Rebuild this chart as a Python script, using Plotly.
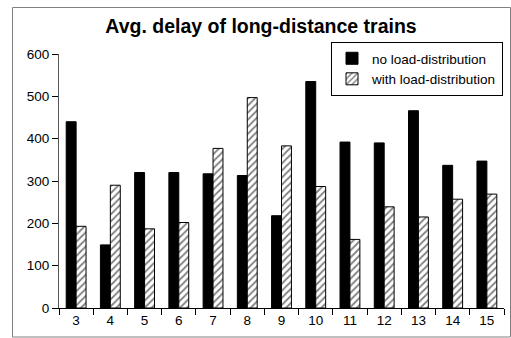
import plotly.graph_objects as go

categories = ["3", "4", "5", "6", "7", "8", "9", "10", "11", "12", "13", "14", "15"]
no_load = [440, 149, 320, 320, 317, 313, 218, 535, 392, 390, 466, 337, 347]
with_load = [193, 290, 187, 202, 377, 497, 383, 287, 162, 239, 215, 257, 269]
y_ticks = [0, 100, 200, 300, 400, 500, 600]

FONT = "Liberation Sans, Arial, sans-serif"

fig = go.Figure()
fig.add_trace(go.Bar(
    x=categories, y=no_load, name="no load-distribution",
    marker=dict(color="black", line=dict(color="black", width=1)),
))
fig.add_trace(go.Bar(
    x=categories, y=with_load, name="with load-distribution",
    marker=dict(color="white", line=dict(color="black", width=1),
                pattern=dict(shape="/", fgcolor="black", bgcolor="white",
                             size=5, solidity=0.35)),
))

L, R, T, B = 59, 7, 54, 30
W, H = 511, 338
pw, ph = W - L - R, H - T - B

fig.update_layout(
    width=W, height=H,
    margin=dict(l=L, r=R, t=T, b=B, pad=0, autoexpand=False),
    paper_bgcolor="white", plot_bgcolor="white",
    barmode="group", bargap=0.42, bargroupgap=0,
    font=dict(family=FONT, size=13.5, color="black"),
    title=dict(text="<b>Avg. delay of long-distance trains</b>",
               x=261 / W, xanchor="center", y=1 - 26 / H, yanchor="middle",
               font=dict(family=FONT, size=19.5, color="black")),
    showlegend=True,
    legend=dict(x=(503 - L) / pw, xanchor="right", y=(308 - 42) / ph, yanchor="top",
                bgcolor="white", bordercolor="black", borderwidth=1,
                font=dict(family=FONT, size=13.5, color="black"),
                itemwidth=30, tracegroupgap=0),
    xaxis=dict(type="category", showgrid=False, zeroline=False,
               showline=True, linecolor="black", linewidth=1,
               ticks="outside", tickson="boundaries", ticklen=6,
               tickcolor="black", tickfont=dict(size=13.5), automargin=False),
    yaxis=dict(range=[0, 600], tickvals=y_ticks, showgrid=False, zeroline=False,
               showline=True, linecolor="#555555", linewidth=1,
               ticks="outside", ticklen=6, tickcolor="black",
               tickfont=dict(size=13.5), automargin=False),
    shapes=[dict(type="rect", xref="paper", yref="paper",
                 x0=(12.5 - L) / pw, x1=(510.5 - L) / pw,
                 y0=(308 - 337) / ph, y1=(308 - 7.5) / ph,
                 line=dict(color="#808080", width=1), fillcolor="rgba(0,0,0,0)",
                 layer="above")],
)

fig.write_html("out.html", config={"displayModeBar": False},
               post_script="document.body.style.margin='0';document.body.style.overflow='hidden';")
